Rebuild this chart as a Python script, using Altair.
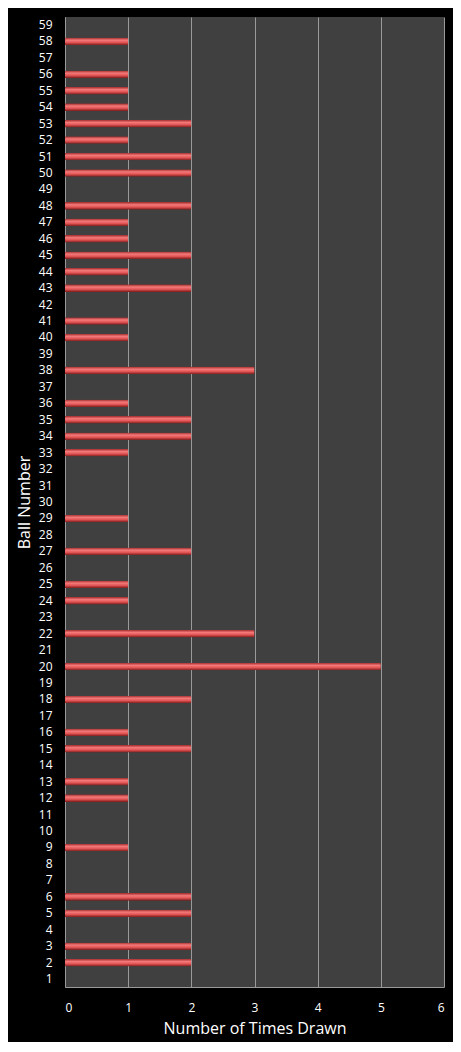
import altair as alt
import pandas as pd

balls = list(range(1, 60))
times_drawn = [
    0, 2, 2, 0, 2, 2, 0, 0, 1, 0,   # 1-10
    0, 1, 1, 0, 2, 1, 0, 2, 0, 5,   # 11-20
    0, 3, 0, 1, 1, 0, 2, 0, 1, 0,   # 21-30
    0, 0, 1, 2, 2, 1, 0, 3, 0, 1,   # 31-40
    1, 0, 2, 1, 2, 1, 1, 2, 0, 2,   # 41-50
    2, 1, 2, 1, 1, 1, 0, 1, 0,      # 51-59
]
x_ticks = [0, 1, 2, 3, 4, 5, 6]

df = pd.DataFrame({"ball": balls, "drawn": times_drawn})

bar_fill = alt.Gradient(
    gradient="linear",
    x1=0, y1=0, x2=0, y2=1,
    stops=[
        alt.GradientStop(color="#a02828", offset=0),
        alt.GradientStop(color="#f47a7a", offset=0.35),
        alt.GradientStop(color="#e25555", offset=0.65),
        alt.GradientStop(color="#7e1a1a", offset=1),
    ],
)

chart = alt.Chart(df).mark_bar(color=bar_fill, cornerRadiusEnd=1).encode(
    x=alt.X(
        "drawn:Q",
        title="Number of Times Drawn",
        scale=alt.Scale(domain=[0, 6], nice=False),
        axis=alt.Axis(values=x_ticks, grid=True, ticks=False, labelPadding=15, titlePadding=7),
    ),
    y=alt.Y(
        "ball:O",
        title="Ball Number",
        sort="descending",
        scale=alt.Scale(paddingInner=0.54, paddingOuter=0.25),
        axis=alt.Axis(ticks=False, labelPadding=13, titlePadding=6),
    ),
).properties(
    width=379,
    height=970,
    autosize=alt.AutoSizeParams(type="none"),
    padding={"left": 57, "top": 9, "right": 9, "bottom": 55},
    background="#000000",
).configure_view(
    fill="#404040",
    stroke=None,
).configure_axis(
    labelColor="#ffffff",
    titleColor="#ffffff",
    labelFont="Open Sans",
    titleFont="Open Sans",
    labelFontSize=12,
    titleFontSize=16,
    titleFontWeight="normal",
    gridColor="#9a9a9a",
    gridWidth=1,
    domainColor="#9a9a9a",
)

chart.save("out.html", embed_options={"renderer": "svg", "actions": False})
